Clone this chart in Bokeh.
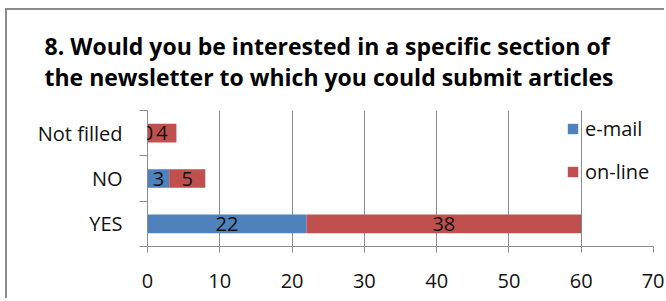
from bokeh.plotting import figure
from bokeh.models import ColumnDataSource, FixedTicker, Range1d, LabelSet
from bokeh.core.properties import value
from bokeh.embed import file_html
from bokeh.resources import INLINE

# ---- data ----
categories = ["YES", "NO", "Not filled"]
email = [22, 3, 0]
online = [38, 5, 4]
series = ["e-mail", "on-line"]
x_ticks = [0, 10, 20, 30, 40, 50, 60, 70]
title_lines = ["8. Would you be interested in a specific section of",
               "the newsletter to which you could submit articles"]

BLUE = "#4F81BD"
RED = "#C0504D"
GRID = "#8C8C8C"
FONT = "Open Sans"
TXT = "#111111"

ypos = [i + 0.5 for i in range(len(categories))]
email_mid = [e / 2 for e in email]
online_mid = [e + o / 2 for e, o in zip(email, online)]

source = ColumnDataSource(dict(
    y=ypos, email=email, online=online,
    email_mid=email_mid, online_mid=online_mid,
    email_txt=[str(v) for v in email], online_txt=[str(v) for v in online],
))

W, H = 659, 290
ML, MR, MT, MB = 140, 13, 97, 54
p = figure(width=W, height=H, x_range=Range1d(0, 70), y_range=Range1d(0, 3),
           output_backend="svg", toolbar_location=None,
           min_border_left=ML, min_border_right=MR,
           min_border_top=MT, min_border_bottom=MB)
p.outline_line_color = None
p.background_fill_color = "white"
p.border_fill_color = "white"
p.styles = {"margin-left": "5px", "margin-top": "8px",
            "border-left": "2px solid #8C8C8C", "border-top": "2px solid #8C8C8C"}

p.hbar_stack(["email", "online"], y="y", height=0.41, color=[BLUE, RED],
             line_color=None, source=source, legend_label=series)

for col, txt in (("email_mid", "email_txt"), ("online_mid", "online_txt")):
    p.add_layout(LabelSet(x=col, y="y", text=txt, source=source,
                          text_align="center", text_baseline="middle",
                          text_font=value(FONT), text_font_size=value("20px"),
                          text_color=TXT))

# x axis
p.xaxis.ticker = FixedTicker(ticks=x_ticks)
p.xaxis.major_tick_out = 6
p.xaxis.major_tick_in = 0
p.xaxis.minor_tick_out = 0
p.xaxis.minor_tick_in = 0
p.xaxis.axis_line_color = GRID
p.xaxis.major_tick_line_color = GRID
p.xaxis.major_label_text_font = FONT
p.xaxis.major_label_text_font_size = "20px"
p.xaxis.major_label_text_color = TXT
p.xaxis.major_label_standoff = 21

# y axis
p.yaxis.ticker = FixedTicker(ticks=ypos, minor_ticks=[0, 1, 2, 3])
p.yaxis.major_label_overrides = {y: c for y, c in zip(ypos, categories)}
p.yaxis.major_tick_out = 0
p.yaxis.major_tick_in = 0
p.yaxis.minor_tick_out = 8
p.yaxis.minor_tick_in = 0
p.yaxis.minor_tick_line_color = GRID
p.yaxis.axis_line_color = GRID
p.yaxis.major_label_text_font = FONT
p.yaxis.major_label_text_font_size = "20px"
p.yaxis.major_label_text_color = TXT
p.yaxis.major_label_standoff = 17

p.xgrid.grid_line_color = GRID
p.ygrid.grid_line_color = None

# legend
lg = p.legend[0]
lg.location = (419, 61)
lg.background_fill_alpha = 0
lg.border_line_alpha = 0
lg.glyph_width = 13
lg.glyph_height = 13
lg.label_text_font = FONT
lg.label_text_font_size = "20px"
lg.label_text_color = TXT
lg.label_standoff = 6
lg.spacing = 16
lg.padding = 0
lg.margin = 0

# title (two lines)
p.title.text = "\n".join(title_lines)
p.title.align = "left"
p.title.offset = -103
p.title.text_font = FONT
p.title.text_font_style = "bold"
p.title.text_font_size = "23px"
p.title.text_color = "#000000"
p.title.text_line_height = 0.96
p.title.standoff = 35

open("out.html", "w").write(file_html(p, INLINE))
